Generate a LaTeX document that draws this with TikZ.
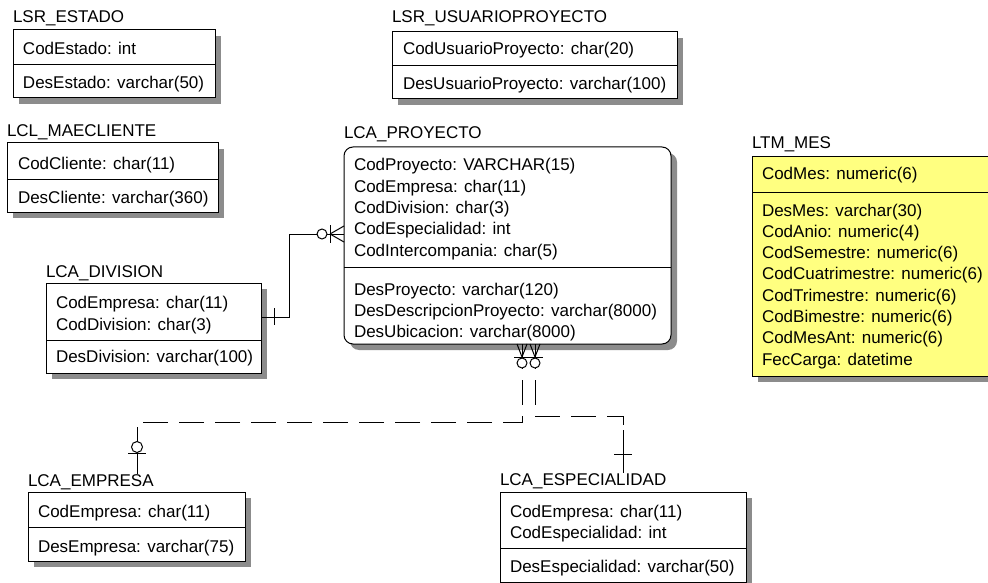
\documentclass[tikz,border=0pt]{standalone}
\usepackage{fontspec}
\setmainfont{Liberation Sans}
\usetikzlibrary{backgrounds}
\definecolor{mesyellow}{RGB}{255,255,128}
\definecolor{shadegray}{RGB}{140,140,140}
\begin{document}
\begin{tikzpicture}[x=1pt,y=-1pt,
  ent/.style={draw=black, line width=1pt, fill=white, anchor=north west, inner sep=0pt, outer sep=0pt},
  txt/.style={anchor=base west, inner sep=0pt, outer sep=0pt, font=\fontsize{17}{20}\selectfont},
  ttl/.style={txt},
  rel/.style={line width=1pt, black},
  nonid/.style={line width=1pt, black, dash pattern=on 25pt off 11pt},
  hollow/.style={line width=1pt, draw=black, fill=white},
  shade/.style={fill=shadegray}
]
\useasboundingbox (0,0) rectangle (988,583);
\clip (0,0) rectangle (988,583);

% ---------- LSR_ESTADO
\node[ttl] (estT) at (13,23) {LSR\_ESTADO};
\node[ent, minimum width=202pt, minimum height=68pt] (estado) at (13,30) {};
\draw[rel] (13,65) -- (215,65);
\node[txt] (est1) at (23,55) {CodEstado: int};
\node[txt] (est2) at (23,89) {DesEstado: varchar(50)};

% ---------- LSR_USUARIOPROYECTO
\node[ttl] (usuT) at (392,23) {LSR\_USUARIOPROYECTO};
\node[ent, minimum width=285pt, minimum height=67pt] (usuario) at (392,32) {};
\draw[rel] (392,66) -- (677,66);
\node[txt] (usu1) at (403,55) {CodUsuarioProyecto: char(20)};
\node[txt] (usu2) at (403,90) {DesUsuarioProyecto: varchar(100)};

% ---------- LCL_MAECLIENTE
\node[ttl] (cliT) at (7,137) {LCL\_MAECLIENTE};
\node[ent, minimum width=211pt, minimum height=69pt] (cliente) at (7,143) {};
\draw[rel] (7,179) -- (218,179);
\node[txt] (cli1) at (18,170) {CodCliente: char(11)};
\node[txt] (cli2) at (18,203) {DesCliente: varchar(360)};

% ---------- LCA_DIVISION
\node[ttl] (divT) at (46,277) {LCA\_DIVISION};
\node[ent, minimum width=215pt, minimum height=90pt] (division) at (46,283) {};
\draw[rel] (46,340) -- (261,340);
\node[txt] (div1) at (56,308) {CodEmpresa: char(11)};
\node[txt] (div2) at (56,330) {CodDivision: char(3)};
\node[txt] (div3) at (56,362) {DesDivision: varchar(100)};

% ---------- LCA_PROYECTO
\node[ttl] (proT) at (344,139) {LCA\_PROYECTO};
\node[ent, rounded corners=9pt, minimum width=327pt, minimum height=197pt] (proyecto) at (344,147) {};
\draw[rel] (344,267) -- (671,267);
\node[txt] (pro1) at (354,171) {CodProyecto: VARCHAR(15)};
\node[txt] (pro2) at (354,192.3) {CodEmpresa: char(11)};
\node[txt] (pro3) at (354,213.6) {CodDivision: char(3)};
\node[txt] (pro4) at (354,234.9) {CodEspecialidad: int};
\node[txt] (pro5) at (354,256.2) {CodIntercompania: char(5)};
\node[txt] (pro6) at (354,295) {DesProyecto: varchar(120)};
\node[txt] (pro7) at (354,316.3) {DesDescripcionProyecto: varchar(8000)};
\node[txt] (pro8) at (354,337.6) {DesUbicacion: varchar(8000)};

% ---------- LTM_MES
\node[ttl] (mesT) at (752,149) {LTM\_MES};
\node[ent, fill=mesyellow, minimum width=260pt, minimum height=219pt] (mes) at (752,157) {};
\draw[rel] (752,192) -- (988,192);
\node[txt] (mes1) at (762,179.5) {CodMes: numeric(6)};
\node[txt] (mes2) at (762,216) {DesMes: varchar(30)};
\node[txt] (mes3) at (762,237.3) {CodAnio: numeric(4)};
\node[txt] (mes4) at (762,258.6) {CodSemestre: numeric(6)};
\node[txt] (mes5) at (762,279.9) {CodCuatrimestre: numeric(6)};
\node[txt] (mes6) at (762,301.2) {CodTrimestre: numeric(6)};
\node[txt] (mes7) at (762,322.5) {CodBimestre: numeric(6)};
\node[txt] (mes8) at (762,343.8) {CodMesAnt: numeric(6)};
\node[txt] (mes9) at (762,365.1) {FecCarga: datetime};

% ---------- LCA_EMPRESA
\node[ttl] (empT) at (28,486) {LCA\_EMPRESA};
\node[ent, minimum width=217pt, minimum height=69pt] (empresa) at (28,492) {};
\draw[rel] (28,527) -- (245,527);
\node[txt] (emp1) at (38,517) {CodEmpresa: char(11)};
\node[txt] (emp2) at (38,552) {DesEmpresa: varchar(75)};

% ---------- LCA_ESPECIALIDAD
\node[ttl] (espT) at (500,485) {LCA\_ESPECIALIDAD};
\node[ent, minimum width=246pt, minimum height=90pt] (especialidad) at (500,492) {};
\draw[rel] (500,548) -- (746,548);
\node[txt] (esp1) at (510,517) {CodEmpresa: char(11)};
\node[txt] (esp2) at (510,538) {CodEspecialidad: int};
\node[txt] (esp3) at (510,572) {DesEspecialidad: varchar(50)};

% ---------- shadows on the background layer
\begin{scope}[on background layer]
  \fill[white] (0,0) rectangle (988,583);
  \foreach \b in {estado,usuario,cliente,division,mes,empresa,especialidad}{
    \fill[shade] ([shift={(6pt,-6pt)}]\b.north west) rectangle ([shift={(6pt,-6pt)}]\b.south east);
  }
  \fill[shade, rounded corners=9pt] ([shift={(6pt,-6pt)}]proyecto.north west) rectangle ([shift={(6pt,-6pt)}]proyecto.south east);
\end{scope}

% ---------- DIVISION -> PROYECTO (identifying, solid)
\draw[rel] (division.north east |- 0,317) -- (289,317) -- (289,234) -- (proyecto.north west |- 0,234);
\draw[rel] (274,308) -- (274,325);
\draw[rel] (330,225) -- (330,243);
\draw[rel] (330,234) -- (344,226);
\draw[rel] (330,234) -- (344,242);
\draw[hollow] (322,234) circle (5);

% ---------- PROYECTO -> EMPRESA (non identifying, dashed)
\draw[nonid] (proyecto.south -| 522,0) -- (522,422) -- (137,422) -- (137,432);
\draw[rel] (137,432) -- (empT.north -| 137,0);
\draw[rel] (128,453) -- (146,453);
\draw[hollow] (137,447) circle (5.5);

% ---------- PROYECTO -> ESPECIALIDAD (non identifying, dashed)
\draw[nonid] (proyecto.south -| 535,0) -- (535,416) -- (623,416) -- (623,430);
\draw[rel] (623,430) -- (espT.north -| 623,0);
\draw[rel] (614,454) -- (632,454);

% crow's feet at PROYECTO bottom
\foreach \cx in {522,535}{
  \draw[rel] (\cx-5,344) -- (\cx,357) -- (\cx+5,344);
  \draw[rel] (\cx,344) -- (\cx,357);
  \draw[rel] (\cx-8,357) -- (\cx+8,357);
  \draw[hollow] (\cx,363) circle (5);
}
\end{tikzpicture}
\end{document}
